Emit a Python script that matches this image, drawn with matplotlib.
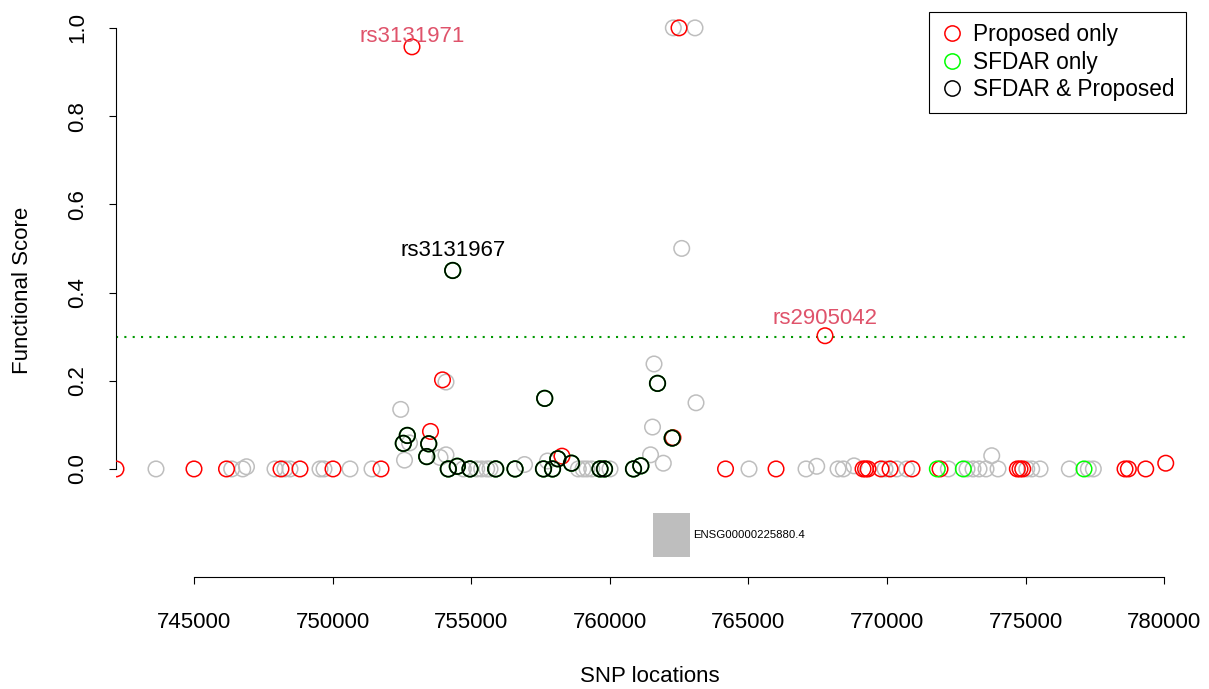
import matplotlib
matplotlib.use("Agg")
import matplotlib.pyplot as plt
from matplotlib.lines import Line2D

plt.rcParams["font.family"] = ["Liberation Sans", "DejaVu Sans"]

# SNPs found by the proposed method only
prop_x = [742186, 745000, 746173, 748139, 748824, 750015, 751747, 752865, 753533,
          753966, 758277, 762282, 762499, 764177, 765999, 767766, 769138, 769228,
          769318, 769787, 770112, 770905, 771916, 774705, 774802, 774899, 778590,
          778710, 779337, 780059]
prop_y = [0, 0, 0, 0, 0, 0, 0, 0.957, 0.085,
          0.202, 0.029, 0.071, 1.0, 0, 0, 0.302, 0, 0,
          0, 0, 0, 0, 0, 0, 0, 0, 0,
          0, 0, 0.013]

# SNPs found by SFDAR only
sfdar_x = [771818, 772756, 777111]
sfdar_y = [0, 0, 0]

# SNPs found by both
both_x = [752552, 752696, 753468, 753396, 754175, 754500, 754958, 755885, 756582,
          757653, 757610, 757935, 758126, 758620, 759648, 759811, 760857, 761121,
          761723, 762253, 754334]
both_y = [0.058, 0.076, 0.057, 0.028, 0, 0.006, 0, 0, 0,
          0.160, 0, 0, 0.023, 0.013, 0, 0, 0, 0.007,
          0.194, 0.070, 0.450]

# remaining SNPs (grey background)
other_x = [743629, 746360, 746757, 746894, 747922, 748283, 748464, 749546, 749690,
           750628, 751422, 752458, 752595, 752775, 754092, 754092, 753876, 754716,
           755200, 755380, 755561, 755680, 756924, 757754, 758866, 759035, 759179,
           759349, 760009, 761471, 761597, 761543, 761932, 763112, 762293, 763076,
           762596, 765024, 767081, 767467, 768236, 768427, 768813, 769931, 770353,
           770714, 772215, 772890, 773106, 773323, 773575, 773781, 774008, 775044,
           775224, 775524, 776581, 777266, 777447]
other_y = [0, 0, 0, 0.005, 0, 0, 0, 0, 0,
           0, 0, 0.135, 0.020, 0.059, 0.197, 0.032, 0.026, 0,
           0, 0, 0, 0, 0.010, 0.018, 0, 0, 0,
           0, 0, 0.032, 0.238, 0.095, 0.013, 0.150, 1.0, 1.0,
           0.500, 0, 0, 0.006, 0, 0, 0.007, 0, 0,
           0, 0, 0, 0, 0, 0, 0.030, 0, 0,
           0, 0, 0, 0, 0]

# labelled SNPs: name, position, score, colour
label_names = ["rs3131971", "rs3131967", "rs2905042"]
label_x = [752865, 754334, 767766]
label_y = [0.957, 0.450, 0.302]
label_cols = ["#DF536B", "black", "#DF536B"]
label_dy = [7.8, 14.5, 12.3]  # points above the marker

gene_name = "ENSG00000225880.4"
gene_start, gene_end = 761561, 762896
threshold = 0.3

xticks = [745000, 750000, 755000, 760000, 765000, 770000, 775000, 780000]
yticks = [0.0, 0.2, 0.4, 0.6, 0.8, 1.0]

W, H = 1209, 689
fig = plt.figure(figsize=(W / 100, H / 100), dpi=100)
left, right, top, bottom = 116, 1186, 12, 577
ax = fig.add_axes([left / W, 1 - bottom / H, (right - left) / W, (bottom - top) / H])
ax.set_xlim(742186, 780790)
ax.set_ylim(-0.245, 1.036)

ms = 125
lw = 1.1
ax.scatter(other_x, other_y, s=ms, facecolors="none", edgecolors="#BEBEBE", linewidths=lw, zorder=2)
ax.scatter(prop_x, prop_y, s=ms, facecolors="none", edgecolors="#FF0000", linewidths=lw, zorder=3)
ax.scatter(sfdar_x, sfdar_y, s=ms, facecolors="none", edgecolors="#00FF00", linewidths=lw, zorder=3)
ax.scatter(both_x, both_y, s=ms, facecolors="none", edgecolors="#00AA00", linewidths=lw + 0.2, zorder=4)
ax.scatter(both_x, both_y, s=ms, facecolors="none", edgecolors="black", linewidths=lw, zorder=5)

ax.axhline(threshold, color="#009900", lw=1.5, dashes=(1, 3), zorder=1)

for name, x, y, c, dy in zip(label_names, label_x, label_y, label_cols, label_dy):
    ax.annotate(name, (x, y), xytext=(0, dy), textcoords="offset points",
                ha="center", va="center", fontsize=16, color=c)

# gene track
ax.fill_between([gene_start, gene_end], -0.2, -0.1, color="#BEBEBE", lw=0, zorder=2)
ax.text(gene_end + 100, -0.15, gene_name, ha="left", va="center", fontsize=8.2)

for s in ["top", "right"]:
    ax.spines[s].set_visible(False)
ax.spines["bottom"].set_bounds(xticks[0], xticks[-1])
ax.spines["left"].set_bounds(0, 1)
ax.set_xticks(xticks)
ax.set_xticklabels([str(t) for t in xticks])
ax.set_yticks(yticks)
ax.set_yticklabels([f"{t:.1f}" for t in yticks], rotation=90, va="center")
ax.tick_params(axis="both", length=5, width=0.8, labelsize=16)
ax.tick_params(axis="x", pad=20)
ax.tick_params(axis="y", pad=15)

fig.text(650 / W, 1 - 676 / H, "SNP locations", ha="center", va="center", fontsize=16)
fig.text(22 / W, 1 - 290 / H, "Functional Score", ha="center", va="center", fontsize=16, rotation=90)

handles = [
    Line2D([], [], ls="none", marker="o", ms=11, mfc="none", mec="#FF0000", mew=lw),
    Line2D([], [], ls="none", marker="o", ms=11, mfc="none", mec="#00FF00", mew=lw),
    Line2D([], [], ls="none", marker="o", ms=11, mfc="none", mec="black", mew=lw),
]
leg = ax.legend(handles, ["Proposed only", "SFDAR only", "SFDAR & Proposed"],
                loc="upper right", bbox_to_anchor=(1, 1), borderaxespad=0,
                fancybox=False, framealpha=1, edgecolor="black", fontsize=16.3,
                handlelength=1.0, handletextpad=0.45, labelspacing=0.2,
                borderpad=0.5)
leg.get_frame().set_linewidth(0.8)

fig.savefig("out.png", dpi=100)
